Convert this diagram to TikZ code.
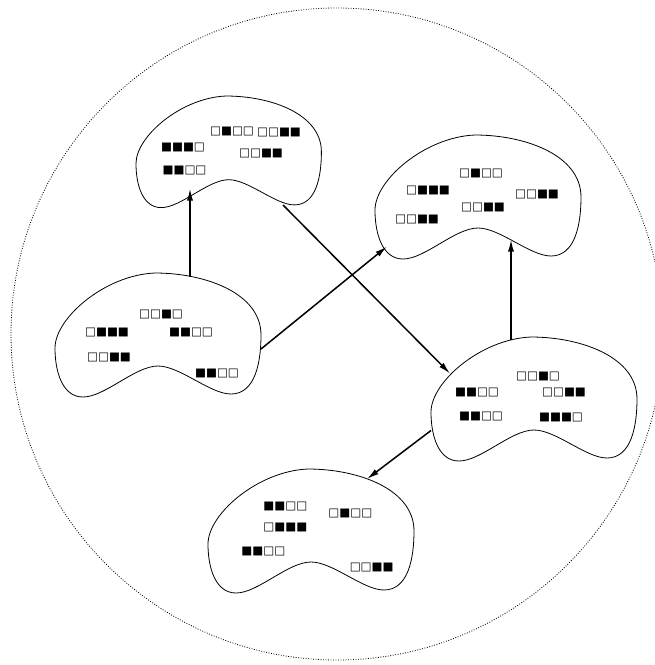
\documentclass[tikz,border=0pt]{standalone}
\usepackage{fontspec}
\newfontfamily\bitsfont{DejaVu Sans}
\usetikzlibrary{arrows.meta}

\tikzset{
  blob/.pic={
    \draw[line width=0.8pt] (100,0) .. controls (50,2) and (0,45) .. (0,75)
      .. controls (0,100) and (8,124) .. (28,124)
      .. controls (50,124) and (80,93) .. (103,93)
      .. controls (125,93) and (155,121) .. (176,121)
      .. controls (200,121) and (206,90) .. (206,62)
      .. controls (206,20) and (150,0) .. (100,0) -- cycle;
  },
  bits/.style={font=\bitsfont\fontsize{11.6}{12}\selectfont,inner sep=0pt},
  flow/.style={->,line width=1.5pt},
}

\begin{document}
\begin{tikzpicture}[x=1pt,y=-1pt,>={Latex[length=12pt,width=6pt]}]
  \useasboundingbox (0,0) rectangle (655,665);
  \draw[line width=0.8pt,dash pattern=on 0.9pt off 1.6pt] (337,334) circle[radius=326pt];

  % the five sets
  \pic[scale=0.9] at (136,96) {blob};
  \pic at (375,135) {blob};
  \pic at (55,273) {blob};
  \pic at (431,337) {blob};
  \pic at (208,469) {blob};

  \node[bits] (a1) at (232,131.5) {□■□□};
  \node[bits] (a2) at (279,132) {□□■■};
  \node[bits] (a3) at (183,147.5) {■■■□};
  \node[bits] (a4) at (261,153.5) {□□■■};
  \node[bits] (a5) at (184.5,170) {■■□□};

  \node[bits] (b1) at (481,173) {□■□□};
  \node[bits] (b2) at (428,190.5) {□■■■};
  \node[bits] (b3) at (537,194) {□□■■};
  \node[bits] (b4) at (483,207) {□□■■};
  \node[bits] (b5) at (417,219) {□□■■};

  \node[bits] (c1) at (161,314) {□□■□};
  \node[bits] (c2) at (107,332) {□■■■};
  \node[bits] (c3) at (191,332.7) {■■□□};
  \node[bits] (c4) at (109,357) {□□■■};
  \node[bits] (c5) at (217,373.7) {■■□□};

  \node[bits] (d1) at (538,376) {□□■□};
  \node[bits] (d2) at (477,392) {■■□□};
  \node[bits] (d3) at (564,392) {□□■■};
  \node[bits] (d4) at (481,416.7) {■■□□};
  \node[bits] (d5) at (561,417.7) {■■■□};

  \node[bits] (e1) at (285.3,506) {■■□□};
  \node[bits] (e2) at (350.3,513.3) {□■□□};
  \node[bits] (e3) at (285.3,527.3) {□■■■};
  \node[bits] (e4) at (263.3,551.7) {■■□□};
  \node[bits] (e5) at (371.7,567.3) {□□■■};

  % moves between sets
  \coordinate (cTop) at (190,277);
  \coordinate (aBot) at (190,188.5);
  \coordinate (cRight) at (261,349);
  \coordinate (bIn) at (387,246.5);
  \coordinate (aOut) at (283,205);
  \coordinate (dIn) at (450,373.5);
  \coordinate (dTop) at (511,339.5);
  \coordinate (bBot) at (511,239.5);
  \coordinate (dLeft) at (431,430.5);
  \coordinate (eIn) at (367,479);

  \draw[flow] (cTop) -- (aBot);
  \draw[flow] (cRight) -- (bIn);
  \draw[flow] (aOut) -- (dIn);
  \draw[flow] (dTop) -- (bBot);
  \draw[flow] (dLeft) -- (eIn);
\end{tikzpicture}
\end{document}
